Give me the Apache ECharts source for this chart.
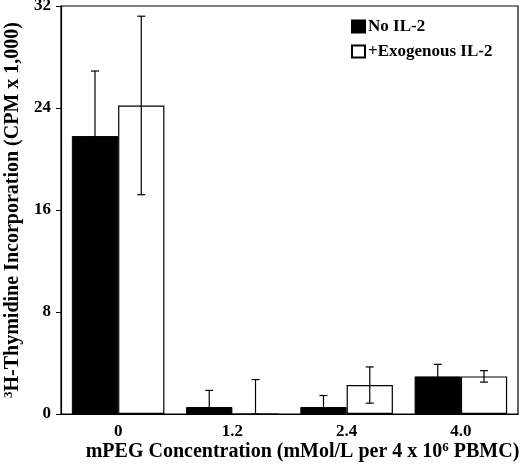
<!DOCTYPE html>
<html>
<head>
<meta charset="utf-8">
<script src="https://cdn.jsdelivr.net/npm/echarts@6/dist/echarts.min.js"></script>
<style>
  html, body { margin: 0; padding: 0; background: #fff; }
  #main { width: 520px; height: 466px; }
</style>
</head>
<body>
<div id="main"></div>
<script>
var categories = ['0', '1.2', '2.4', '4.0'];
var noIL2 = [21.8, 0.55, 0.55, 2.95];
var noIL2Err = [5.1, 1.3, 0.9, 0.95];
var exoIL2 = [24.2, 0, 2.27, 2.95];
var exoIL2Err = [7.0, 2.7, 1.42, 0.45];
var yTicks = [0, 8, 16, 24, 32];

var font = 'Liberation Serif, Times New Roman, serif';
var gapPct = 0.19;

// error bars drawn on top of each bar, side = -1 left bar, +1 right bar
function errSeries(vals, errs, side, color) {
  var data = vals.map(function (v, i) { return [i, v, errs[i]]; });
  return {
    type: 'custom',
    silent: true,
    z: 5,
    data: data,
    encode: { x: 0, y: 1 },
    renderItem: function (params, api) {
      var idx = api.value(0), v = api.value(1), e = api.value(2);
      var band = api.size([1, 0])[0];
      var barW = band * (1 - gapPct) / 2;
      var x = api.coord([idx, v])[0] + side * barW / 2;
      var top = api.coord([idx, v + e])[1];
      var bot = api.coord([idx, Math.max(0, v - e)])[1];
      var cap = 4;
      var st = { stroke: color, lineWidth: 1.2 };
      return {
        type: 'group',
        children: [
          { type: 'line', shape: { x1: x, y1: top, x2: x, y2: bot }, style: st },
          { type: 'line', shape: { x1: x - cap, y1: top, x2: x + cap, y2: top }, style: st },
          { type: 'line', shape: { x1: x - cap, y1: bot, x2: x + cap, y2: bot }, style: st }
        ]
      };
    }
  };
}

var chart = echarts.init(document.getElementById('main'));
var supStyle = { fontFamily: font, fontWeight: 'bold', fontSize: 13, color: '#000', verticalAlign: 'top', padding: [0, 0, 8, 0] };
var option = {
  backgroundColor: '#fff',
  animation: false,
  grid: {
    left: 61, right: 2, top: 6, bottom: 52,
    containLabel: false,
    outerBoundsMode: 'none',
    show: true, borderColor: '#000', borderWidth: 1.2
  },
  legend: {
    orient: 'vertical',
    left: 346, top: 13,
    itemWidth: 13, itemHeight: 12, itemGap: 8,
    icon: 'rect',
    selectedMode: false,
    textStyle: { fontFamily: font, fontWeight: 'bold', fontSize: 17, color: '#000', lineHeight: 17, padding: [0, 0, 0, -2] },
    data: ['No IL-2', '+Exogenous IL-2']
  },
  xAxis: {
    type: 'category',
    data: categories,
    axisLine: { lineStyle: { color: '#000', width: 1.2 } },
    axisTick: { alignWithLabel: true, length: 5, lineStyle: { color: '#000' } },
    axisLabel: { fontFamily: font, fontWeight: 'bold', fontSize: 17, color: '#000', margin: 9 },
    name: 'mPEG Concentration (mMol/L per 4 x 10{sup|6} PBMC)',
    nameLocation: 'middle',
    nameMoveOverlap: false,
    nameGap: 27,
    nameTextStyle: {
      fontFamily: font, fontWeight: 'bold', fontSize: 20, color: '#000',
      padding: [0, 0, 0, 26],
      rich: { sup: supStyle }
    }
  },
  yAxis: {
    type: 'value',
    min: yTicks[0], max: yTicks[yTicks.length - 1], interval: 8,
    splitLine: { show: false },
    axisLine: { show: true, lineStyle: { color: '#000', width: 1.2 } },
    axisTick: { show: true, length: 5, lineStyle: { color: '#000' } },
    axisLabel: { fontFamily: font, fontWeight: 'bold', fontSize: 17, color: '#000', margin: 10 },
    name: '{sup|3}H-Thymidine Incorporation (CPM x 1,000)',
    nameLocation: 'middle',
    nameMoveOverlap: false,
    nameRotate: 90,
    nameGap: 38,
    nameTextStyle: {
      fontFamily: font, fontWeight: 'bold', fontSize: 20, color: '#000',
      rich: { sup: supStyle }
    }
  },
  series: [
    {
      name: 'No IL-2',
      type: 'bar',
      data: noIL2,
      barGap: '0%',
      barCategoryGap: (gapPct * 100) + '%',
      itemStyle: { color: '#000', borderColor: '#000', borderWidth: 1 }
    },
    {
      name: '+Exogenous IL-2',
      type: 'bar',
      data: exoIL2,
      itemStyle: { color: '#fff', borderColor: '#000', borderWidth: 1.2 }
    },
    errSeries(noIL2, noIL2Err, -1, '#000'),
    errSeries(exoIL2, exoIL2Err, 1, '#000')
  ]
};
chart.setOption(option);
</script>
</body>
</html>
